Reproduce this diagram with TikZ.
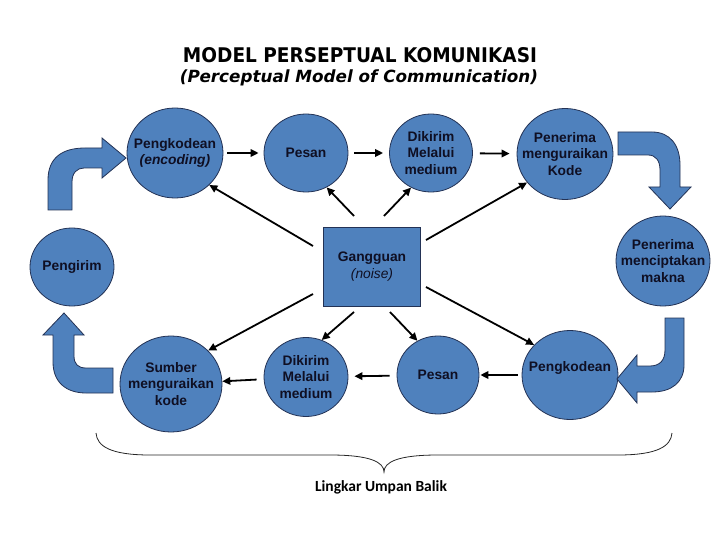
\documentclass[tikz,border=0pt]{standalone}
\usepackage{graphicx}
\usepackage{fontspec}
\setmainfont{Liberation Sans}
\newfontfamily\titlefont{DejaVu Sans}
\newfontfamily\calfont{Carlito}
\usetikzlibrary{shapes.geometric,arrows.meta}
\definecolor{nodeblue}{RGB}{79,129,189}
\definecolor{edgeblue}{RGB}{35,50,85}
\definecolor{txt}{RGB}{15,15,35}
\begin{document}
\begin{tikzpicture}[x=1pt,y=-1pt,
  bubble/.style={ellipse, fill=nodeblue, draw=edgeblue, line width=0.8pt, inner sep=0pt},
  lbl/.style={align=center, inner sep=0pt, text=txt, font=\fontsize{13.8}{16.8}\selectfont\bfseries},
  arr/.style={line width=1.8pt, -{Triangle[length=8pt,width=7.5pt]}},
  blockarrow/.style={fill=nodeblue, draw=edgeblue, line width=0.8pt, line join=miter}
]
\useasboundingbox (0,0) rectangle (720,540);

% title
\node[inner sep=0pt] (t1) at (360,55) {\resizebox{354pt}{15pt}{\titlefont\bfseries MODEL PERSEPTUAL KOMUNIKASI}};
\node[inner sep=0pt] (t2) at (359,78) {\resizebox{358pt}{!}{\titlefont\bfseries\itshape (Perceptual Model of Communication)}};

% nodes
\node[bubble, minimum width=96pt, minimum height=90pt] (pk1) at (175,153) {};
\node[lbl] (pk1t) at (pk1) {Pengkodean\\\textit{(encoding)}};
\node[bubble, minimum width=84pt, minimum height=78pt] (ps1) at (306,153) {};
\node[lbl] (ps1t) at (ps1) {Pesan};
\node[bubble, minimum width=83pt, minimum height=78pt] (dk1) at (431,153) {};
\node[lbl] (dk1t) at (dk1) {Dikirim\\Melalui\\medium};
\node[bubble, minimum width=96pt, minimum height=91pt] (pn1) at (565,154) {};
\node[lbl] (pn1t) at (pn1) {Penerima\\menguraikan\\Kode};
\node[bubble, minimum width=84pt, minimum height=78pt] (pg) at (72,267) {};
\node[lbl] (pgt) at (pg) {Pengirim};
\node[rectangle, fill=nodeblue, draw=edgeblue, line width=0.8pt, minimum width=97pt, minimum height=79pt] (g) at (372,267) {};
\node[lbl] (gt) at (g) {Gangguan\\{\mdseries\itshape (noise)}};
\node[bubble, minimum width=94pt, minimum height=90pt] (pn2) at (663,261) {};
\node[lbl] (pn2t) at (pn2) {Penerima\\menciptakan\\makna};
\node[bubble, minimum width=102pt, minimum height=96pt] (sb) at (171,384) {};
\node[lbl] (sbt) at (sb) {Sumber\\menguraikan\\kode};
\node[bubble, minimum width=84pt, minimum height=79pt] (dk2) at (306,377) {};
\node[lbl] (dk2t) at (dk2) {Dikirim\\Melalui\\medium};
\node[bubble, minimum width=82pt, minimum height=78pt] (ps2) at (438,375) {};
\node[lbl] (ps2t) at (ps2) {Pesan};
\node[bubble, minimum width=96pt, minimum height=89pt] (pk2) at (570,375) {};
\node[lbl] (pk2t) at (pk2) {Pengkodean\\\mbox{}};

% chain arrows
\draw[arr, shorten <=4pt, shorten >=5pt] (pk1) -- (ps1);
\draw[arr, shorten <=6pt, shorten >=6pt] (ps1) -- (dk1);
\draw[arr, shorten <=7pt, shorten >=7pt] (dk1) -- (pn1);
\draw[arr, shorten <=4pt, shorten >=1pt] (pk2) -- (ps2);
\draw[arr, shorten <=7pt, shorten >=6pt] (ps2) -- (dk2);
\draw[arr, shorten <=7pt, shorten >=0pt] (dk2) -- (sb);

% noise arrows
\coordinate (g1) at (313,246);
\coordinate (g2) at (354,216);
\coordinate (g3) at (384,216);
\coordinate (g4) at (426,240);
\coordinate (g5) at (313,294);
\coordinate (g6) at (354,312);
\coordinate (g7) at (390,312);
\coordinate (g8) at (426,287);
\draw[arr] (g1) -- (pk1.-43);
\draw[arr] (g2) -- (ps1.-59);
\draw[arr] (g3) -- (dk1.-120);
\draw[arr] (g4) -- (pn1.-143);
\draw[arr] (g5) -- (sb.42);
\draw[arr] (g6) -- (dk2.67);
\draw[arr] (g7) -- (ps2.121);
\draw[arr] (g8) -- (pk2.140);

% block arrows
\draw[blockarrow] (48,210) -- (48,180) .. controls (48,158) and (62,148) .. (85,148) -- (102,148) -- (102,138) -- (126,158) -- (102,178) -- (102,168) -- (84,168) .. controls (77,168) and (72,173) .. (72,182) -- (72,210) -- cycle;
\draw[blockarrow] (618,132) -- (652,132) .. controls (670,132) and (680,145) .. (680,165) -- (680,187) -- (691,187) -- (670,209) -- (649,187) -- (660,187) -- (660,170) .. controls (660,161) and (656,155) .. (648,155) -- (618,155) -- cycle;
\draw[blockarrow] (665,318) -- (684,318) -- (684,365) .. controls (684,382) and (672,392) .. (652,392) -- (637,392) -- (637,403) -- (617,379) -- (637,355) -- (637,366) -- (650,366) .. controls (660,366) and (665,360) .. (665,350) -- cycle;
\draw[blockarrow] (64,313) -- (84,335) -- (74,335) -- (74,356) .. controls (74,364) and (78,368) .. (86,368) -- (113,368) -- (113,393) -- (86,393) .. controls (66,393) and (53,382) .. (53,362) -- (53,335) -- (43,335) -- cycle;

% brace
\draw[line width=0.8pt, black!85] (96,433) .. controls (97,446) and (110,455) .. (150,455) -- (330,455) .. controls (370,455) and (384,462) .. (384,472) .. controls (384,462) and (398,455) .. (438,455) -- (618,455) .. controls (658,455) and (671,446) .. (672,433);
\node[inner sep=0pt, font=\calfont\bfseries\fontsize{15.5}{18}\selectfont] (lub) at (381,487) {Lingkar Umpan Balik};
\end{tikzpicture}
\end{document}
